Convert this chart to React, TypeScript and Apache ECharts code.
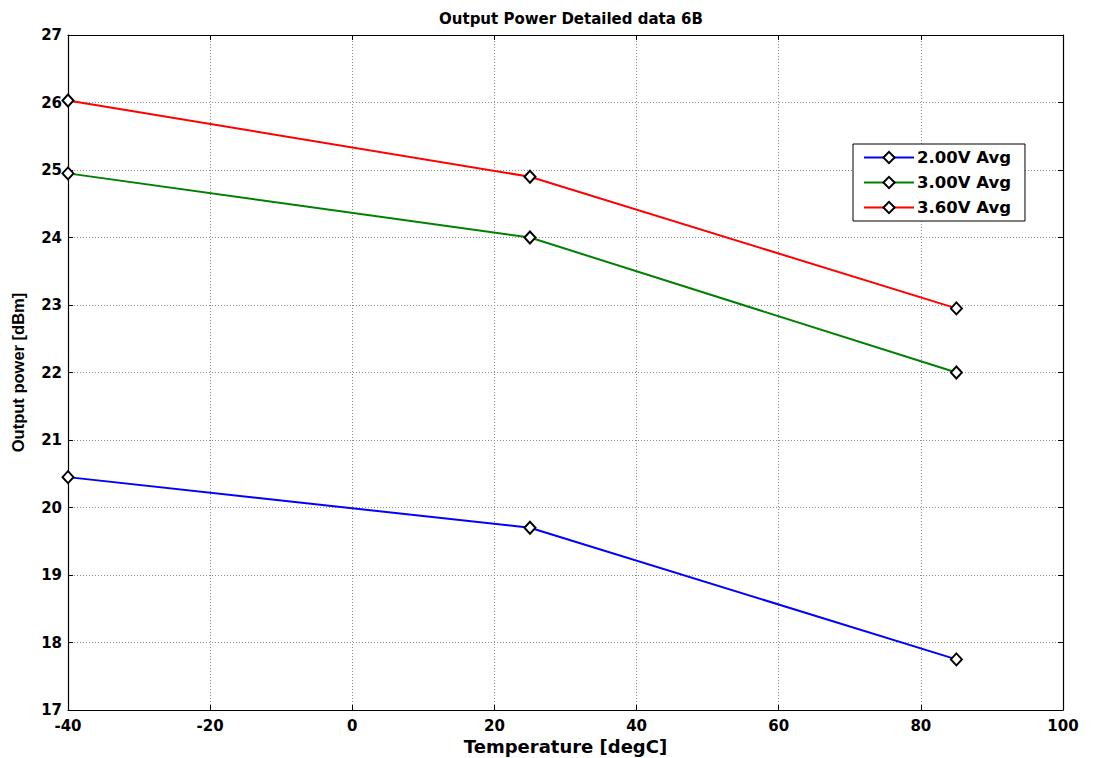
import React, { useEffect, useRef } from "react";
import * as echarts from "echarts";

const temperatures = [-40, 25, 85];
const series200 = [20.45, 19.7, 17.75];
const series300 = [24.95, 24.0, 22.0];
const series360 = [26.03, 24.9, 22.95];
const seriesNames = ["2.00V Avg", "3.00V Avg", "3.60V Avg"];
const seriesColors = ["#0000ff", "#008000", "#ff0000"];

const WIDE = "'DejaVu Sans', Verdana, sans-serif";
const NARROW = "'Liberation Sans', Arial, sans-serif";

export default function App() {
  const ref = useRef<HTMLDivElement>(null);
  useEffect(() => {
    if (!ref.current) return;
    const chart = echarts.init(ref.current, null, { renderer: "svg" });
    const allData = [series200, series300, series360];
    const gridLine = { show: true, lineStyle: { color: "#8c8c8c", type: [1, 2], width: 1 } };
    const tick = { show: true, inside: true, length: 5, lineStyle: { color: "#000", width: 1 } };
    const axisLine = { show: true, onZero: false, lineStyle: { color: "#000", width: 1.2 } };
    const label = { color: "#000", fontFamily: WIDE, fontWeight: "bold", fontSize: 15 };
    chart.setOption({
      animation: false,
      backgroundColor: "#fff",
      title: {
        text: "Output Power Detailed data 6B",
        left: 566,
        textAlign: "center",
        top: 6,
        textStyle: { fontFamily: WIDE, fontWeight: "bold", fontSize: 15, color: "#000" },
      },
      grid: { left: 68, top: 35, right: 32, bottom: 48, containLabel: false, outerBoundsMode: "none" },
      legend: {
        left: 853,
        top: 144,
        orient: "vertical",
        backgroundColor: "#fff",
        borderColor: "#000",
        borderWidth: 1,
        borderRadius: 0,
        padding: [5, 14, 5, 10],
        itemGap: 8,
        itemWidth: 50,
        itemHeight: 14,
        textStyle: { fontFamily: WIDE, fontWeight: "bold", fontSize: 16.5, color: "#000", padding: [0, 0, 0, -2] },
        data: seriesNames,
      },
      xAxis: [
        {
          type: "value",
          min: -40,
          max: 100,
          interval: 20,
          name: "Temperature [degC]",
          nameLocation: "middle",
          nameGap: 26,
          nameTextStyle: { ...label, fontSize: 18 },
          axisLine,
          axisTick: tick,
          axisLabel: { ...label, margin: 8 },
          splitLine: gridLine,
        },
        {
          type: "value",
          position: "top",
          min: -40,
          max: 100,
          interval: 20,
          axisLine,
          axisTick: tick,
          axisLabel: { show: false },
          splitLine: { show: false },
        },
      ],
      yAxis: [
        {
          type: "value",
          min: 17,
          max: 27,
          interval: 1,
          name: "Output power [dBm]",
          nameLocation: "middle",
          nameGap: 42,
          nameTextStyle: { color: "#000", fontFamily: NARROW, fontWeight: "bold", fontSize: 16.5 },
          axisLine,
          axisTick: tick,
          axisLabel: { ...label, margin: 6 },
          splitLine: gridLine,
        },
        {
          type: "value",
          position: "right",
          min: 17,
          max: 27,
          interval: 1,
          axisLine,
          axisTick: tick,
          axisLabel: { show: false },
          splitLine: { show: false },
        },
      ],
      series: seriesNames.map((name, i) => ({
        name,
        type: "line",
        data: temperatures.map((t, j) => [t, allData[i][j]]),
        color: seriesColors[i],
        lineStyle: { color: seriesColors[i], width: 2 },
        symbol: "diamond",
        symbolSize: [11, 12],
        showAllSymbol: true,
        itemStyle: { color: "#fff", borderColor: "#000", borderWidth: 2 },
        z: 3 + i,
      })),
    });
    return () => chart.dispose();
  }, []);
  return (
    <div
      ref={ref}
      style={{ position: "fixed", left: 0, top: 0, width: 1095, height: 758 }}
    />
  );
}
